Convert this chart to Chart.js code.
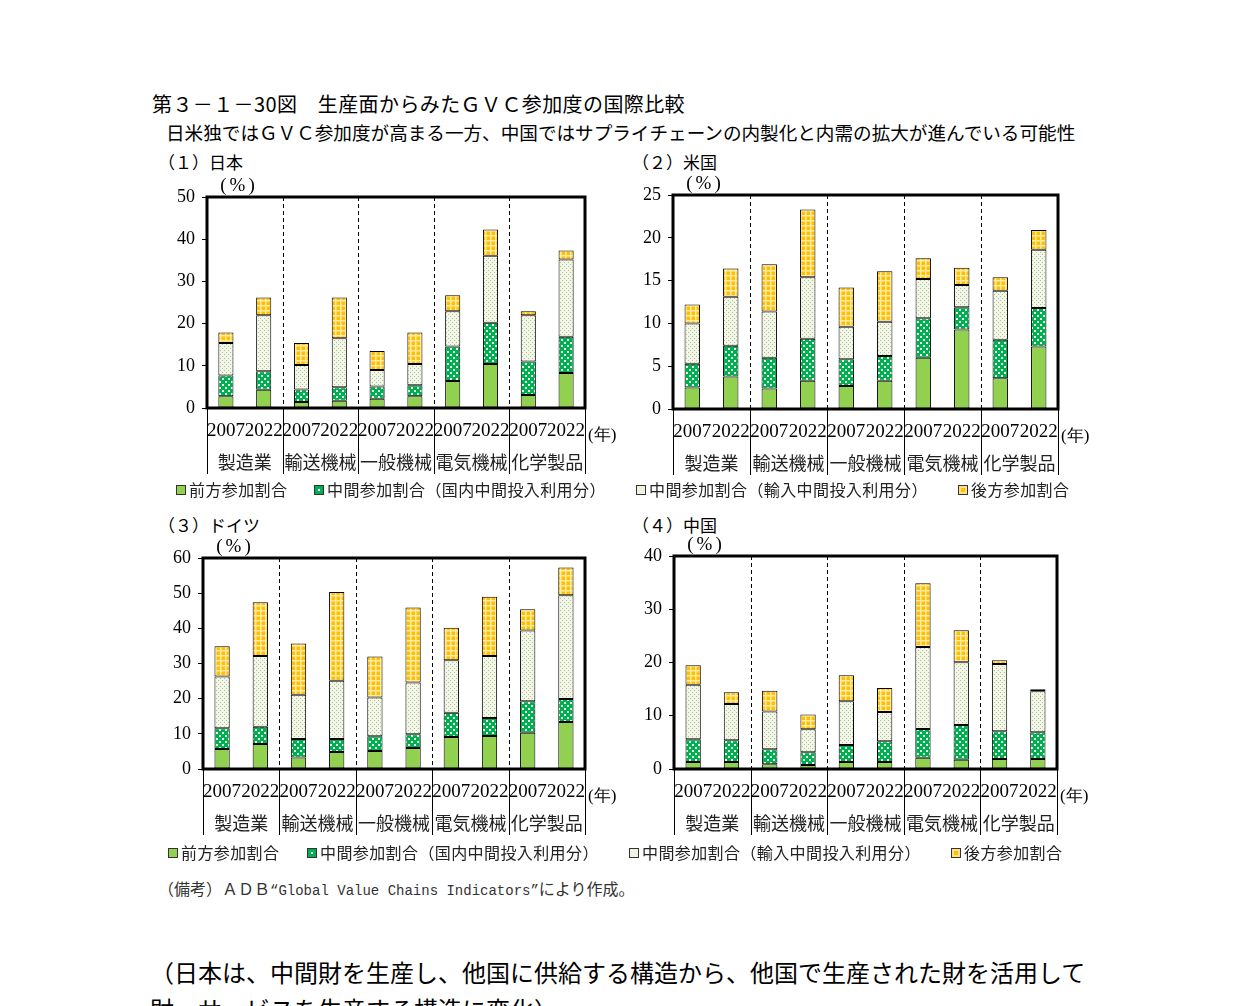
<!DOCTYPE html>
<html lang="ja">
<head>
<meta charset="utf-8">
<title>第３－１－30図　生産面からみたＧＶＣ参加度の国際比較</title>
<script src="https://cdn.jsdelivr.net/npm/chart.js@4.4.1/dist/chart.umd.min.js"></script>
<style>
  html, body { margin: 0; padding: 0; background: #fff; }
  body { width: 1241px; height: 1006px; position: relative; overflow: hidden;
         font-family: "Noto Sans CJK JP", sans-serif; color: #000; }
  .t { position: absolute; white-space: nowrap; line-height: 1; }
  .title { left: 152px; top: 94px; font-size: 20px; letter-spacing: 0.4px; }
  .sub { left: 166px; top: 123px; font-size: 18.6px; }
  .panel-t { font-size: 17px; }
  .box { position: absolute; width: 490px; height: 312px; }
  .leg { position: absolute; font-size: 16px; line-height: 1; white-space: nowrap; color: #222;
         letter-spacing: 0.4px; }
  .sw { display: inline-block; width: 8px; height: 8px; border: 1px solid #333;
        margin-right: 3px; vertical-align: 1px; }
  .sw.f { background: #92d050; }
  .sw.d { background: radial-gradient(circle, #fff 0 1.2px, #00b050 1.6px); }
  .sw.m { background: #eef2e0; }
  .sw.b { background: #ffc000; box-shadow: inset 0 0 0 2px #ffe08a; }
  .note { left: 158px; top: 880px; font-size: 16px; color: #333; }
  .note .mono { font-family: "Liberation Mono", monospace; font-size: 14px; }
  .para { left: 150px; font-size: 24px; }
</style>
</head>
<body>
<div class="t title">第３－１－30図　生産面からみたＧＶＣ参加度の国際比較</div>
<div class="t sub">日米独ではＧＶＣ参加度が高まる一方、中国ではサプライチェーンの内製化と内需の拡大が進んでいる可能性</div>

<div class="t panel-t" style="left:158px; top:153px;">（１）日本</div>
<div class="t panel-t" style="left:632px; top:153px;">（２）米国</div>
<div class="t panel-t" style="left:158px; top:516px;">（３）ドイツ</div>
<div class="t panel-t" style="left:632px; top:516px;">（４）中国</div>

<div class="box" style="left:140px; top:170px;"><canvas id="cJapan"></canvas></div>
<div class="box" style="left:610px; top:170px;"><canvas id="cUS"></canvas></div>
<div class="box" style="left:140px; top:530px;"><canvas id="cGermany"></canvas></div>
<div class="box" style="left:610px; top:530px;"><canvas id="cChina"></canvas></div>

<div class="leg" style="left:176px; top:481px;"><span class="sw f"></span>前方参加割合</div>
<div class="leg" style="left:314px; top:481px;"><span class="sw d"></span>中間参加割合（国内中間投入利用分）</div>
<div class="leg" style="left:636px; top:481px;"><span class="sw m"></span>中間参加割合（輸入中間投入利用分）</div>
<div class="leg" style="left:958px; top:481px;"><span class="sw b"></span>後方参加割合</div>

<div class="leg" style="left:168px; top:844px;"><span class="sw f"></span>前方参加割合</div>
<div class="leg" style="left:307px; top:844px;"><span class="sw d"></span>中間参加割合（国内中間投入利用分）</div>
<div class="leg" style="left:629px; top:844px;"><span class="sw m"></span>中間参加割合（輸入中間投入利用分）</div>
<div class="leg" style="left:951px; top:844px;"><span class="sw b"></span>後方参加割合</div>

<div class="t note">（備考）ＡＤＢ<span class="mono">“Global Value Chains Indicators”</span>により作成。</div>

<div class="t para" style="top:960px;">（日本は、中間財を生産し、他国に供給する構造から、他国で生産された財を活用して</div>
<div class="t para" style="top:997px;">財・サービスを生産する構造に変化）</div>

<script>
(function () {
  "use strict";

  /* ── Data (%) ───────────────────────────────────────────────── */
  const years      = ["2007", "2022", "2007", "2022", "2007", "2022", "2007", "2022", "2007", "2022"];
  const industries = ["製造業", "輸送機械", "一般機械", "電気機械", "化学製品"];
  const seriesNames = ["前方参加割合", "中間参加割合（国内中間投入利用分）",
                       "中間参加割合（輸入中間投入利用分）", "後方参加割合"];

  const jpForward     = [2.8, 4.3, 1.4, 1.7, 2.2, 2.8, 6.4, 10.4, 3.1, 8.3];
  const jpMidDomestic = [4.9, 4.4, 3.0, 3.2, 2.9, 2.6, 8.2, 9.8, 7.9, 8.6];
  const jpMidImport   = [7.7, 13.3, 5.8, 11.6, 3.9, 5.0, 8.3, 15.9, 11.0, 18.3];
  const jpBackward    = [2.5, 4.2, 5.2, 9.7, 4.5, 7.5, 3.8, 6.2, 0.9, 2.1];

  const usForward     = [2.5, 3.8, 2.4, 3.3, 2.7, 3.3, 6.0, 9.3, 3.6, 7.3];
  const usMidDomestic = [2.8, 3.6, 3.6, 4.9, 3.1, 2.9, 4.6, 2.6, 4.5, 4.5];
  const usMidImport   = [4.7, 5.7, 5.4, 7.2, 3.8, 4.0, 4.6, 2.6, 5.7, 6.8];
  const usBackward    = [2.2, 3.3, 5.5, 7.9, 4.6, 5.9, 2.4, 2.0, 1.6, 2.3];

  const deForward     = [5.7, 7.1, 3.3, 4.8, 5.1, 6.0, 9.1, 9.4, 10.3, 13.4];
  const deMidDomestic = [5.9, 4.9, 5.2, 3.7, 4.2, 3.9, 6.9, 5.1, 9.0, 6.5];
  const deMidImport   = [14.7, 20.1, 12.6, 16.6, 11.0, 14.7, 14.9, 17.6, 20.1, 29.5];
  const deBackward    = [8.6, 15.3, 14.6, 25.2, 11.7, 21.3, 9.3, 16.9, 6.0, 7.9];

  const cnForward     = [1.3, 1.3, 0.9, 0.75, 1.3, 1.3, 2.1, 1.75, 1.9, 1.9];
  const cnMidDomestic = [4.3, 4.1, 2.8, 2.4, 3.2, 3.9, 5.4, 6.5, 5.2, 5.0];
  const cnMidImport   = [10.2, 6.8, 7.1, 4.3, 8.2, 5.5, 15.4, 11.8, 12.6, 7.7];
  const cnBackward    = [3.7, 2.2, 3.9, 2.8, 4.9, 4.5, 12.0, 6.0, 0.7, 0.4];

  /* ── Fill patterns ──────────────────────────────────────────── */
  const makePattern = (size, draw) => {
    const c = document.createElement("canvas");
    c.width = size; c.height = size;
    draw(c.getContext("2d"), size);
    return c.getContext("2d").createPattern(c, "repeat");
  };

  const fillForward = "#92d050";
  const fillDomestic = makePattern(6, (g) => {
    g.fillStyle = "#00b050"; g.fillRect(0, 0, 6, 6);
    g.fillStyle = "#e8fff0"; g.fillRect(1, 1, 2, 2); g.fillRect(4, 4, 2, 2);
  });
  const fillImport = makePattern(4, (g) => {
    g.fillStyle = "#f3f5e8"; g.fillRect(0, 0, 4, 4);
    g.fillStyle = "#a8c58c"; g.fillRect(0, 0, 1, 1); g.fillRect(2, 2, 1, 1);
  });
  const fillBackward = makePattern(5, (g) => {
    g.fillStyle = "#ffc000"; g.fillRect(0, 0, 5, 5);
    g.fillStyle = "#ffeaa6"; g.fillRect(0, 0, 5, 1.5); g.fillRect(0, 0, 1.5, 5);
  });

  const serif = "'Liberation Serif', 'DejaVu Serif', serif";
  const jpFont = "'Noto Sans CJK JP', sans-serif";

  /* ── Frame, dividers, group labels ──────────────────────────── */
  const framePlugin = {
    id: "frame",
    afterDraw(chart) {
      const { ctx, chartArea: a, scales: { x } } = chart;
      const n = years.length;
      const bounds = [];
      for (let i = 2; i < n; i += 2) {
        bounds.push((x.getPixelForValue(i - 1) + x.getPixelForValue(i)) / 2);
      }
      ctx.save();

      // dashed dividers inside the plot
      ctx.strokeStyle = "#000";
      ctx.lineWidth = 1;
      ctx.setLineDash([4, 3]);
      bounds.forEach((bx) => {
        ctx.beginPath();
        ctx.moveTo(Math.round(bx) + 0.5, a.top);
        ctx.lineTo(Math.round(bx) + 0.5, a.bottom);
        ctx.stroke();
      });
      ctx.setLineDash([]);

      // solid separators under the axis
      [a.left, ...bounds, a.right].forEach((bx) => {
        ctx.beginPath();
        ctx.moveTo(Math.round(bx) + 0.5, a.bottom);
        ctx.lineTo(Math.round(bx) + 0.5, a.bottom + 66);
        ctx.stroke();
      });

      // industry names
      ctx.fillStyle = "#222";
      ctx.font = "18px " + jpFont;
      ctx.textAlign = "center";
      ctx.textBaseline = "middle";
      const edges = [a.left, ...bounds, a.right];
      industries.forEach((name, i) => {
        ctx.fillText(name, (edges[i] + edges[i + 1]) / 2, a.bottom + 54);
      });

      // unit labels
      ctx.fillStyle = "#000";
      ctx.font = "19px " + serif;
      ctx.letterSpacing = "3px";
      ctx.fillText("(%)", a.left + 32, a.top - 11);
      ctx.letterSpacing = "0px";
      ctx.textAlign = "left";
      ctx.font = "17px " + serif;
      ctx.fillText("(年)", a.right + 3, a.bottom + 28);

      // thick plot border
      ctx.lineWidth = 3;
      ctx.strokeRect(a.left, a.top, a.right - a.left, a.bottom - a.top);
      ctx.restore();
    },
  };

  /* ── One panel ──────────────────────────────────────────────── */
  const panel = (id, series, yMax, yStep, pad, yWidth, xHeight) => {
    const fills = [fillForward, fillDomestic, fillImport, fillBackward];
    new Chart(document.getElementById(id), {
      type: "bar",
      data: {
        labels: years,
        datasets: series.map((data, i) => ({
          label: seriesNames[i],
          data,
          backgroundColor: fills[i],
          borderColor: "#000",
          borderWidth: 1,
          borderSkipped: false,
          barPercentage: 0.4,
          categoryPercentage: 1,
        })),
      },
      options: {
        responsive: true,
        maintainAspectRatio: false,
        animation: false,
        events: [],
        layout: { padding: { top: pad.top, right: pad.right, left: 0, bottom: 0 } },
        plugins: { legend: { display: false }, tooltip: { enabled: false } },
        scales: {
          x: {
            stacked: true,
            grid: { display: false },
            border: { display: false },
            ticks: { color: "#000", font: { family: serif, size: 19 }, padding: 4,
                     maxRotation: 0, autoSkip: false },
            afterFit: (s) => { s.height = xHeight; },
          },
          y: {
            stacked: true,
            min: 0,
            max: yMax,
            grid: { drawOnChartArea: false, drawTicks: true, tickLength: 5, color: "#000" },
            border: { display: false },
            ticks: { stepSize: yStep, color: "#000", font: { family: serif, size: 18 }, padding: 7 },
            afterFit: (s) => { s.width = yWidth; },
          },
        },
      },
      plugins: [framePlugin],
    });
  };

  panel("cJapan",   [jpForward, jpMidDomestic, jpMidImport, jpBackward], 50, 10, { top: 27, right: 45 }, 67, 74);
  panel("cUS",      [usForward, usMidDomestic, usMidImport, usBackward], 25, 5,  { top: 25, right: 42 }, 63, 73);
  panel("cGermany", [deForward, deMidDomestic, deMidImport, deBackward], 60, 10, { top: 28, right: 45 }, 63, 73);
  panel("cChina",   [cnForward, cnMidDomestic, cnMidImport, cnBackward], 40, 10, { top: 26, right: 43 }, 64, 73);
})();
</script>
</body>
</html>
